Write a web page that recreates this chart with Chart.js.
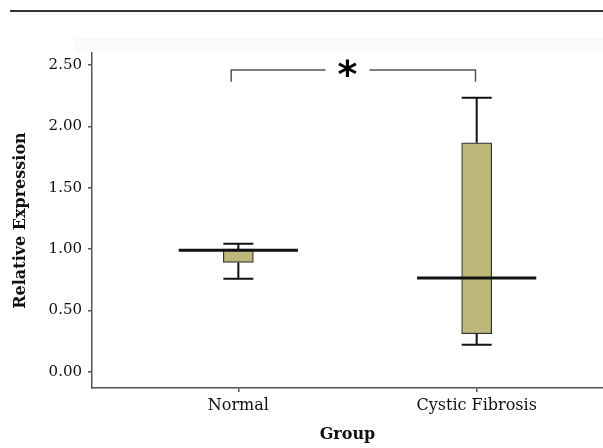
<!DOCTYPE html>
<html>
<head>
<meta charset="utf-8">
<script src="https://cdn.jsdelivr.net/npm/chart.js@4/dist/chart.umd.min.js"></script>
<style>
	body { margin: 0; background: #fff; }
	#wrap { position: relative; width: 603px; height: 448px; }
	#rule { position: absolute; left: 10px; right: 0; top: 10px; height: 2px; background: #333; }
	#band { position: absolute; left: 75px; right: 0; top: 38px; height: 15px; background: #fafaf8; }
	canvas { position: absolute; left: 0; top: 0; }
</style>
</head>
<body>
<div id="wrap">
	<div id="rule"></div>
	<div id="band"></div>
	<canvas id="chart" width="603" height="448"></canvas>
</div>
<script>
// groups and box plot values
const categories = ["Normal", "Cystic Fibrosis"];
const whiskerLow = [0.758, 0.220];
const q1 = [0.891, 0.310];
const median = [0.989, 0.764];
const q3 = [1.000, 1.866];
const whiskerHigh = [1.043, 2.233];
const yTicks = [0, 0.5, 1, 1.5, 2, 2.5];

// significance bracket between the two groups
const bracketX = [0.97, 1.995];
const bracketTop = 2.46;
const bracketFoot = 2.363;
const bracketMarkX = 1.458;
const bracketMark = "*";

const serif = "'DejaVu Serif', serif";

const boxParts = {
	id: "boxParts",
	afterDatasetsDraw: function (chart) {
		const ctx = chart.ctx;
		const x = chart.scales.x;
		const y = chart.scales.y;
		ctx.save();
		ctx.strokeStyle = "#111";
		ctx.lineCap = "butt";

		categories.forEach((c, i) => {
			const cx = x.getPixelForValue(i + 1);
			ctx.lineWidth = 2;
			// whiskers
			[[q3[i], whiskerHigh[i]], [q1[i], whiskerLow[i]]].forEach(([from, to]) => {
				ctx.beginPath();
				ctx.moveTo(cx, y.getPixelForValue(from));
				ctx.lineTo(cx, y.getPixelForValue(to));
				ctx.moveTo(cx - 15, y.getPixelForValue(to));
				ctx.lineTo(cx + 15, y.getPixelForValue(to));
				ctx.stroke();
			});
			// median
			ctx.lineWidth = 3;
			ctx.beginPath();
			ctx.moveTo(x.getPixelForValue(i + 0.75), y.getPixelForValue(median[i]));
			ctx.lineTo(x.getPixelForValue(i + 1.25), y.getPixelForValue(median[i]));
			ctx.stroke();
		});

		// bracket
		const x1 = x.getPixelForValue(bracketX[0]);
		const x2 = x.getPixelForValue(bracketX[1]);
		const yt = y.getPixelForValue(bracketTop);
		const yf = y.getPixelForValue(bracketFoot);
		const mid = x.getPixelForValue(bracketMarkX);
		ctx.strokeStyle = "#555";
		ctx.lineWidth = 1.5;
		ctx.beginPath();
		ctx.moveTo(x1, yf);
		ctx.lineTo(x1, yt);
		ctx.lineTo(mid - 22, yt);
		ctx.moveTo(mid + 22, yt);
		ctx.lineTo(x2, yt);
		ctx.lineTo(x2, yf);
		ctx.stroke();

		ctx.fillStyle = "#000";
		ctx.font = "bold 38px 'DejaVu Sans'";
		ctx.textAlign = "center";
		ctx.textBaseline = "alphabetic";
		ctx.fillText(bracketMark, mid, yt + 17);
		ctx.restore();
	}
};

new Chart(document.getElementById("chart"), {
	type: "bar",
	data: {
		datasets: [{
			data: categories.map((c, i) => ({ x: i + 1, y: [q1[i], q3[i]] })),
			backgroundColor: "#bdb878",
			borderColor: "#333",
			borderWidth: 1.2,
			borderSkipped: false,
			barThickness: 30
		}]
	},
	options: {
		responsive: false,
		animation: false,
		layout: { padding: { top: 53, left: 0, right: 0, bottom: 0 } },
		plugins: { legend: { display: false }, tooltip: { enabled: false } },
		scales: {
			x: {
				type: "linear",
				min: 0.386,
				max: 2.53,
				offset: false,
				afterBuildTicks: function (scale) {
					scale.ticks = categories.map((c, i) => ({ value: i + 1 }));
				},
				afterFit: function (scale) { scale.height = 60; },
				ticks: {
					callback: function (v) { return categories[v - 1]; },
					color: "#111",
					font: { family: serif, size: 16 },
					padding: 4,
					maxRotation: 0
				},
				grid: { offset: false, drawOnChartArea: false, drawTicks: true, tickLength: 4, color: "#555", lineWidth: 1.5 },
				border: { display: true, color: "#555", width: 1.5 },
				title: {
					display: true,
					text: "Group",
					color: "#111",
					font: { family: serif, size: 16, weight: "bold" },
					padding: { top: 6 }
				}
			},
			y: {
				min: -0.133,
				max: 2.598,
				afterBuildTicks: function (scale) {
					scale.ticks = yTicks.map(v => ({ value: v }));
				},
				afterFit: function (scale) { scale.width = 92; },
				ticks: {
					callback: function (v) { return v.toFixed(2); },
					color: "#111",
					font: { family: serif, size: 15 },
					padding: 6
				},
				grid: { drawOnChartArea: false, drawTicks: true, tickLength: 4, color: "#555", lineWidth: 1.5 },
				border: { display: true, color: "#555", width: 1.5 },
				title: {
					display: true,
					text: "Relative Expression",
					color: "#111",
					font: { family: serif, size: 16, weight: "bold" },
					padding: { top: 11, bottom: 4 }
				}
			}
		}
	},
	plugins: [boxParts]
});
</script>
</body>
</html>
